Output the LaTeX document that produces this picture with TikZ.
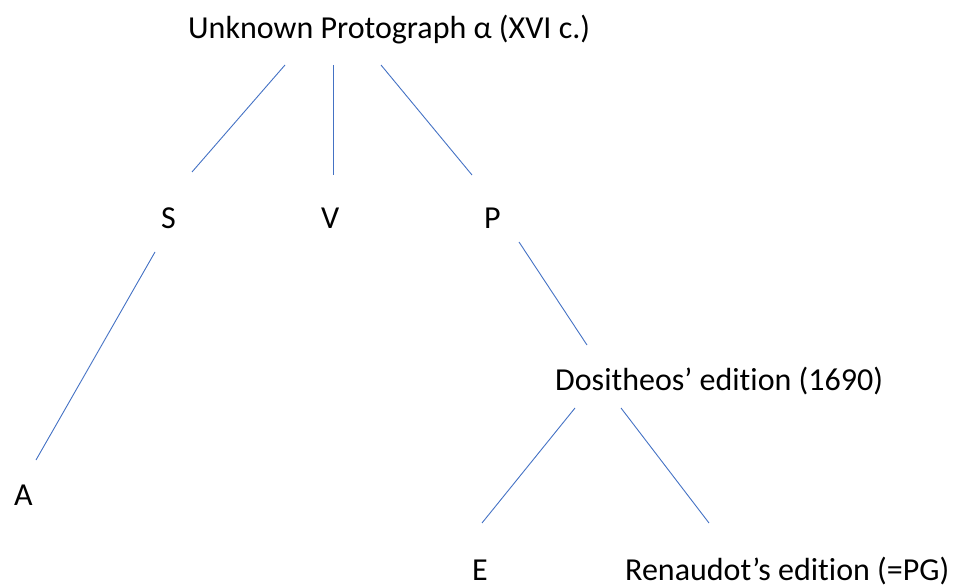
\documentclass[tikz,border=0pt]{standalone}
\usepackage{fontspec}
\setmainfont{Carlito}[Ligatures=NoCommon]
\begin{document}
\begin{tikzpicture}[x=1pt,y=-1pt,
  lbl/.style={inner sep=0pt,anchor=base west,font=\fontsize{32}{38}\selectfont},
  edge/.style={draw={rgb,255:red,68;green,114;blue,196},line width=0.9pt}]
\useasboundingbox (0,0) rectangle (962,588);
\node[lbl] (root) at (188,39) {Unknown Protograph α (XVI c.)};
\node[lbl] (S) at (161,229) {S};
\node[lbl] (V) at (321,229) {V};
\node[lbl] (P) at (484,229) {P};
\node[lbl] (A) at (14,505) {A};
\node[lbl] (D) at (555,390) {Dositheos’ edition (1690)};
\node[lbl] (E) at (472,580) {E};
\node[lbl] (R) at (625,580) {Renaudot’s edition (=PG)};
\coordinate (r1) at (285,65); \coordinate (s1) at (192,172);
\coordinate (r2) at (333,65); \coordinate (v1) at (333,175);
\coordinate (r3) at (381,65); \coordinate (p1) at (472,175);
\coordinate (s2) at (155,252); \coordinate (a1) at (36,460);
\coordinate (p2) at (519,242); \coordinate (d1) at (587,345);
\coordinate (d2) at (575,408); \coordinate (e1) at (482,523);
\coordinate (d3) at (621,408); \coordinate (re1) at (709,523);
\draw[edge] (r1) -- (s1);
\draw[edge] (r2) -- (v1);
\draw[edge] (r3) -- (p1);
\draw[edge] (s2) -- (a1);
\draw[edge] (p2) -- (d1);
\draw[edge] (d2) -- (e1);
\draw[edge] (d3) -- (re1);
\end{tikzpicture}
\end{document}
